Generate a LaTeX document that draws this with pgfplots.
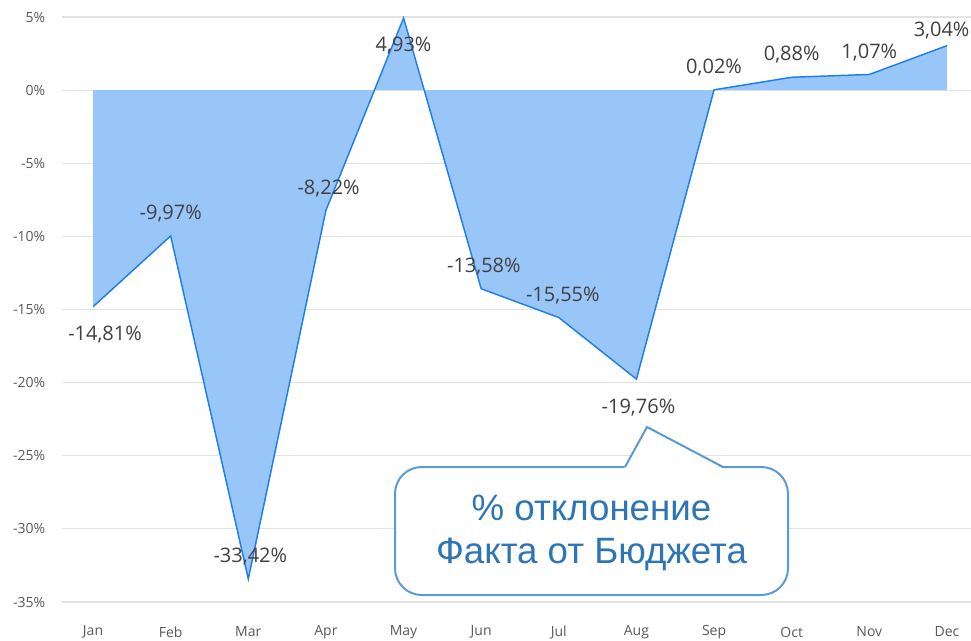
\documentclass[border=0pt]{standalone}
\usepackage{pgfplots}
\usepackage{pgfplotstable}
\pgfplotsset{compat=1.18}
\usepackage{fontspec}
\setmainfont{Open Sans}
\newfontfamily\calloutfont{Liberation Sans}
\definecolor{areafill}{HTML}{94C3F8}
\definecolor{lineblue}{HTML}{1F7FE6}
\definecolor{gridgray}{HTML}{E3E3E3}
\definecolor{ticktext}{HTML}{595959}
\definecolor{labeltext}{HTML}{404040}
\definecolor{calloutedge}{HTML}{5B9BD5}
\definecolor{callouttext}{HTML}{2E75B6}

\pgfplotstableread{
x y lbl dx dy
0 -14.81 -14,81 9 -21
1 -9.97 -9,97 0 16.5
2 -33.42 -33,42 1.5 16.5
3 -8.22 -8,22 2 16.5
4 4.93 4,93 0 -21
5 -13.58 -13,58 2 16.5
6 -15.55 -15,55 3 16.5
7 -19.76 -19,76 1.5 -21.5
8 0.02 0,02 0 16.5
9 0.88 0,88 0 17
10 1.07 1,07 0 16.5
11 3.04 3,04 -4 11
}\datatable

\begin{document}
\begin{tikzpicture}
\begin{axis}[
  at={(46.5pt,28.5pt)}, anchor=south west,
  scale only axis, width=681.75pt, height=438.75pt,
  xmin=-0.4, xmax=11.31, ymin=-35, ymax=5,
  axis line style={draw=none},
  major tick style={draw=none},
  minor tick style={draw=none},
  ymajorgrids, grid style={color=gridgray, line width=0.8pt},
  ytick={-35,-30,...,5},
  yticklabel={\pgfmathprintnumber{\tick}\%},
  xtick={0,...,11},
  xticklabels={Jan,Feb,Mar,Apr,May,Jun,Jul,Aug,Sep,Oct,Nov,Dec},
  /pgf/number format/assume math mode=true,
  yticklabel style={font=\fontsize{10.5}{12}\selectfont, text=ticktext, anchor=east, inner sep=0pt, xshift=-12.5pt},
  xticklabel style={font=\fontsize{10.5}{12}\selectfont, text=ticktext, anchor=center, inner sep=0pt, yshift=-22.5pt},
  clip=false,
]
\addplot[fill=areafill, fill opacity=0.95, draw=none] table[x=x, y=y] {\datatable} \closedcycle;
\addplot[lineblue, line width=1.1pt, mark=none] table[x=x, y=y] {\datatable};
\addplot[draw=none, mark=none,
  point meta=explicit symbolic,
  visualization depends on={\thisrow{dx} \as \dx},
  visualization depends on={\thisrow{dy} \as \dy},
  nodes near coords={\pgfplotspointmeta\%},
  every node near coord/.append style={anchor=center, inner sep=0pt,
     xshift=\dx pt, yshift=\dy pt,
     font=\fontsize{15}{18}\selectfont, text=labeltext},
] table[x=x, y=y, meta=lbl] {\datatable};
\end{axis}
\begin{scope}[x=0.75pt, y=-0.75pt, shift={(0pt,480pt)}]
\draw[calloutedge, line width=1.5pt, fill=white, rounded corners=20]
  (395,467) rectangle (788,595);
\fill[white] (624,469) -- (647,427) -- (724,469) -- cycle;
\draw[calloutedge, line width=1.5pt, line join=miter]
  (625,467) -- (647,427) -- (723,467);
\node[font=\calloutfont\fontsize{27.5}{32}\selectfont, text=callouttext, align=center]
  at (591.5,533) {\% отклонение\\Факта от Бюджета};
\end{scope}
\pgfresetboundingbox
\useasboundingbox (0,0) rectangle (728.25pt,480pt);
\end{tikzpicture}
\end{document}
